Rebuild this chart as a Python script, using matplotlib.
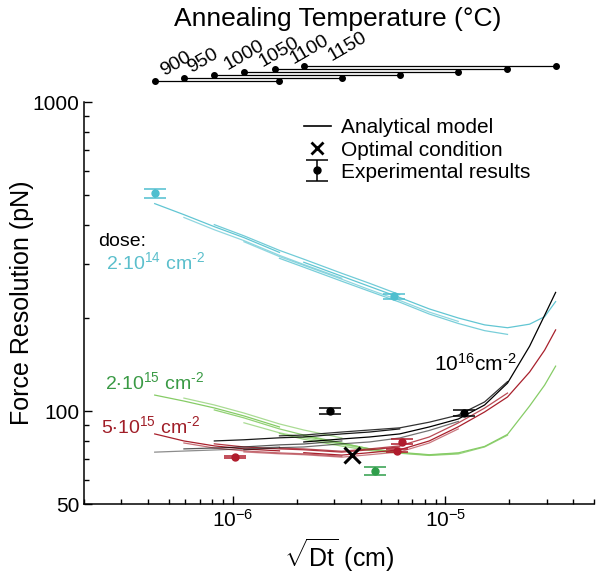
import matplotlib
matplotlib.use("Agg")
import matplotlib.pyplot as plt
from matplotlib.lines import Line2D
from matplotlib.ticker import NullFormatter

plt.rcParams['font.family'] = ['Liberation Sans', 'DejaVu Sans']
plt.rcParams['mathtext.fontset'] = 'custom'
plt.rcParams['mathtext.rm'] = 'Liberation Sans'
plt.rcParams['mathtext.it'] = 'Liberation Sans:italic'
plt.rcParams['mathtext.default'] = 'regular'

# annealing temperatures and the sqrt(Dt) span each one covers
temps = [900, 950, 1000, 1050, 1100, 1150]
dt_lo = [4.3e-7, 5.9e-7, 8.2e-7, 1.13e-6, 1.58e-6, 2.16e-6]
dt_hi = [1.66e-6, 3.26e-6, 6.1e-6, 1.15e-5, 1.96e-5, 3.3e-5]

# sqrt(Dt) grid of the model curves; temperature i uses xg[start[i]:stop[i]+1]
xg = [4.3e-7, 5.9e-7, 8.2e-7, 1.13e-6, 1.66e-6, 2.16e-6, 3.26e-6, 4.4e-6,
      6.1e-6, 8.4e-6, 1.15e-5, 1.53e-5, 1.96e-5, 2.49e-5, 2.93e-5, 3.3e-5]
seg_start = [0, 1, 2, 3, 4, 5]
seg_stop = [4, 6, 8, 10, 12, 15]

# analytical model, force resolution (pN), one list per temperature
model_2e14 = [
    [469, 432, 395, 364, 326],
    [423, 386, 356, 319, 298, 269],
    [401, 369, 331, 310, 279, 259, 238],
    [353, 316, 296, 267, 247, 228, 209, 195],
    [312, 292, 263, 244, 225, 206, 192, 182, 177],
    [303, 273, 253, 233, 214, 200, 190, 186, 191, 202, 226],
]
model_2e15 = [
    [112.6, 107.7, 102.3, 96.4, 88.8],
    [110.1, 104.6, 98.5, 90.8, 86.8, 81.8],
    [100.8, 95.0, 87.5, 83.6, 78.8, 75.4, 73.2],
    [91.6, 85.0, 82.0, 78.0, 75.0, 73.2, 72.0, 73.0],
    [84.6, 81.0, 77.0, 74.5, 73.0, 71.8, 72.6, 76.5, 83.5],
    [83.0, 78.5, 75.5, 73.5, 72.2, 73.2, 76.8, 84.0, 103.8, 121.3, 139.7],
]
model_5e15 = [
    [84.3, 80.0, 77.1, 75.4, 74.3],
    [78.8, 75.9, 74.3, 73.2, 72.7, 71.4],
    [78.3, 76.5, 75.4, 74.9, 73.6, 74.9, 76.5],
    [73.7, 72.7, 72.2, 70.9, 72.2, 73.7, 78.8, 87.5],
    [75.9, 75.4, 74.1, 75.4, 77.1, 82.4, 91.5, 102.2, 114.3],
    [73.3, 72.0, 73.3, 74.9, 80.0, 88.9, 99.3, 111.0, 133.7, 157.4, 183.0],
]
model_1e16 = [
    [73.6, 74.2, 74.8, 75.4, 76.5],
    [75.4, 75.9, 76.5, 77.7, 78.2, 80.0],
    [80.0, 80.7, 81.9, 82.4, 84.3, 85.5, 87.5],
    [74.9, 76.1, 76.5, 78.3, 79.4, 81.8, 86.5, 92.5],
    [83.1, 83.6, 85.5, 86.8, 88.2, 92.0, 97.0, 107.0, 124.5],
    [79.4, 81.2, 82.4, 84.3, 88.8, 94.2, 104.6, 123.1, 162.1, 204.1, 242.0],
]

# experimental results
exp_2e14_x = [4.3e-7, 5.75e-6]
exp_2e14_y = [506, 235]
exp_2e14_err = [18, 5]
exp_2e15_x = [4.67e-6]
exp_2e15_y = [64]
exp_2e15_err = [2]
exp_5e15_x = [1.03e-6, 6.25e-6, 5.9e-6]
exp_5e15_y = [71, 79.6, 74.3]
exp_5e15_err = [0.4, 1.5, 0.8]
exp_1e16_x = [2.87e-6, 1.23e-5]
exp_1e16_y = [100, 98.7]
exp_1e16_err = [2.5, 2]

opt_x = 3.63e-6
opt_y = 72.1

c_cyan = '#62c6d3'
c_green = '#86cc66'
c_green_dk = '#3a9a45'
c_red = '#a8202c'

fig = plt.figure(figsize=(6, 5.79), dpi=100)
ax = fig.add_axes([0.14, 0.1295, 0.85, 0.6943])


def draw_bundle(curves, color, shade):
    for i, ys in enumerate(curves):
        xs = xg[seg_start[i]:seg_stop[i] + 1]
        ax.plot(xs, ys, color=color, lw=0.9, alpha=shade[i])


draw_bundle(model_2e14, c_cyan, [1.0, 0.7, 0.9, 0.7, 0.85, 1.0])
draw_bundle(model_2e15, c_green, [1.0, 0.7, 0.9, 0.7, 0.85, 1.0])
draw_bundle(model_5e15, c_red, [1.0, 0.65, 0.9, 0.6, 0.8, 1.0])
draw_bundle(model_1e16, 'black', [0.45, 0.65, 0.9, 0.55, 0.8, 1.0])

eb_kw = dict(fmt='o', ms=5, capsize=8, capthick=1.1, elinewidth=1.1)
ax.errorbar(exp_2e14_x, exp_2e14_y, yerr=exp_2e14_err, color='#4fbfcf', **eb_kw)
ax.errorbar(exp_2e15_x, exp_2e15_y, yerr=exp_2e15_err, color='#2f9e4a', **eb_kw)
ax.errorbar(exp_5e15_x, exp_5e15_y, yerr=exp_5e15_err, color='#b01c2c', **eb_kw)
eb_black = ax.errorbar(exp_1e16_x, exp_1e16_y, yerr=exp_1e16_err, color='black', **eb_kw)
ax.plot(opt_x, opt_y, 'x', color='black', ms=12, mew=2.2)

ax.set_xscale('log')
ax.set_yscale('log')
ax.set_xlim(2e-7, 5e-5)
ax.set_ylim(50, 1000)
ax.set_yticks([50, 100, 1000], ['50', '100', '1000'])
ax.set_yticks([60, 70, 80, 90, 200, 300, 400, 500, 600, 700, 800, 900], minor=True)
ax.yaxis.set_minor_formatter(NullFormatter())
ax.xaxis.set_minor_formatter(NullFormatter())
ax.spines['top'].set_visible(False)
ax.spines['right'].set_visible(False)
for s in ['left', 'bottom']:
    ax.spines[s].set_linewidth(1.1)
ax.tick_params('both', which='major', direction='in', length=5.5, width=1, labelsize=15)
ax.tick_params('both', which='minor', direction='in', length=3.5, width=1)

ax.set_ylabel('Force Resolution (pN)', fontsize=18)
ax.yaxis.set_label_coords(-0.098, 0.5)
ax.set_xlabel(r'$\sqrt{Dt}$ (cm)', fontsize=18)
ax.xaxis.set_label_coords(0.5, -0.08)

# dose labels (hyphen instead of math minus in cm-2)
ax.text(2.33e-7, 341, 'dose:', fontsize=14, color='black')
ax.text(2.55e-7, 287, '$2{\\cdot}10^{14}\\ cm^{\u20102}$', fontsize=14, color='#5bbfcc')
ax.text(2.52e-7, 118, '$2{\\cdot}10^{15}\\ cm^{\u20102}$', fontsize=14, color=c_green_dk)
ax.text(2.41e-7, 85, '$5{\\cdot}10^{15}\\ cm^{\u20102}$', fontsize=14, color='#a01e28')
ax.text(8.87e-6, 135, '$10^{16}cm^{\u20102}$', fontsize=15, color='black')

handles = [Line2D([], [], color='black', lw=1.2),
           Line2D([], [], color='black', marker='x', ls='none', ms=9, mew=2),
           eb_black]
ax.legend(handles, ['Analytical model', 'Optimal condition', 'Experimental results'],
          loc='upper left', bbox_to_anchor=(0.41, 0.985), frameon=False,
          fontsize=15, handlelength=1.3, handletextpad=0.5, labelspacing=0.15,
          borderpad=0)

# annealing temperature strip on top
axt = fig.add_axes([0.14, 0.8446, 0.85, 0.0518])
axt.set_xscale('log')
axt.set_xlim(2e-7, 5e-5)
axt.set_ylim(-3, 7)
axt.axis('off')
label_shift = [(8, 1), (6.5, 1), (11, 1), (15, 1), (14.5, 1), (21.5, 1)]
for i in range(len(temps)):
    axt.plot([dt_lo[i], dt_hi[i]], [i, i], color='black', lw=0.9)
    axt.plot([dt_lo[i], dt_hi[i]], [i, i], 'o', color='black', ms=4)
    axt.annotate(str(temps[i]), (dt_lo[i], i), xytext=label_shift[i],
                 textcoords='offset points', rotation=30, rotation_mode='anchor',
                 ha='left', va='bottom', fontsize=14)
fig.text(338 / 600, 1 - 19 / 579, 'Annealing Temperature (°C)', ha='center',
         va='center', fontsize=19)

fig.savefig('out.png', dpi=100)
